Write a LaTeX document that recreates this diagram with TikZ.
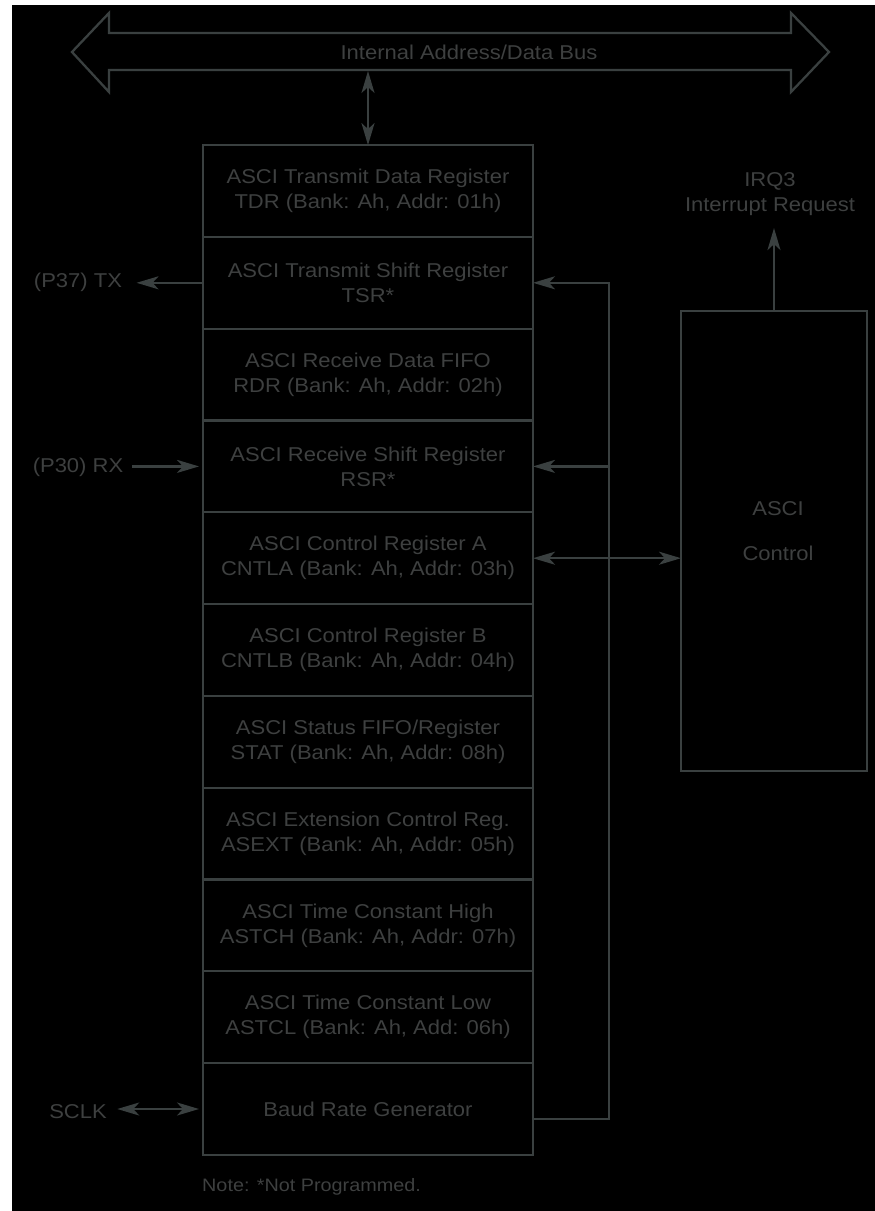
\documentclass[tikz,border=0pt]{standalone}
\usepackage{fontspec}
\setmainfont[FakeStretch=1.1]{Liberation Sans}
\usepackage{tikz}
\usetikzlibrary{arrows.meta,positioning}
\definecolor{wire}{HTML}{3A4040}
\definecolor{ink}{HTML}{3E4040}

\begin{document}
\begin{tikzpicture}[x=1pt, y=-1pt,
  font=\fontsize{20}{25}\selectfont, >={Stealth[length=22pt, width=13pt, inset=6pt]},
  reg/.style={draw=wire, line width=2.3pt, minimum width=330pt, minimum height=91.8pt, outer sep=0pt, inner sep=0pt, align=center, text=ink},
  lbl/.style={text=ink, align=center},
  arr/.style={->, draw=wire, line width=2.3pt},
  dbl/.style={<->, draw=wire, line width=2.3pt}]
\useasboundingbox (0,0) rectangle (875,1211);
\fill[white] (0,0) rectangle (875,1211);
\fill[black] (12,5) rectangle (875,1211);
% internal bus
\draw[draw=wire, line width=2.3pt, line join=miter] (72,52) -- (109,13) -- (109,33) -- (791,33) -- (791,13) -- (829,52) -- (791,92) -- (791,70) -- (109,70) -- (109,92) -- cycle;
\node[lbl] (bus) at (469,52) {Internal Address/Data Bus};
\coordinate (busb) at (368,71);
% register stack
\node[reg] (tdr) at (368,191) {ASCI Transmit Data Register\\TDR (Bank: Ah, Addr: 01h)};
\node[reg, below=0pt of tdr] (tsr) {ASCI Transmit Shift Register\\TSR*};
\node[reg, below=0pt of tsr] (rdr) {ASCI Receive Data FIFO\\RDR (Bank: Ah, Addr: 02h)};
\node[reg, below=0pt of rdr] (rsr) {ASCI Receive Shift Register\\RSR*};
\node[reg, below=0pt of rsr] (cntla) {ASCI Control Register A\\CNTLA (Bank: Ah, Addr: 03h)};
\node[reg, below=0pt of cntla] (cntlb) {ASCI Control Register B\\CNTLB (Bank: Ah, Addr: 04h)};
\node[reg, below=0pt of cntlb] (stat) {ASCI Status FIFO/Register\\STAT (Bank: Ah, Addr: 08h)};
\node[reg, below=0pt of stat] (asext) {ASCI Extension Control Reg.\\ASEXT (Bank: Ah, Addr: 05h)};
\node[reg, below=0pt of asext] (astch) {ASCI Time Constant High\\ASTCH (Bank: Ah, Addr: 07h)};
\node[reg, below=0pt of astch] (astcl) {ASCI Time Constant Low\\ASTCL (Bank: Ah, Add: 06h)};
\node[reg, below=0pt of astcl] (brg) {Baud Rate Generator};
\draw[dbl] (busb) -- (tdr.north);
% pins on the left
\node[lbl] (tx) at (78,282) {(P37) TX};
\node[lbl] (rx) at (78,467) {(P30) RX};
\node[lbl] (sclk) at (78,1112) {SCLK};
\draw[arr, shorten >=11pt] (tsr.west) -- (tsr.west -| tx.east);
\draw[arr, shorten <=5pt, shorten >=4pt] (rsr.west -| rx.east) -- (rsr.west);
\draw[dbl, shorten <=7pt, shorten >=4pt] (brg.west -| sclk.east) -- (brg.west);
% control block
\node[draw=wire, line width=2.3pt, minimum width=186pt, minimum height=460pt, outer sep=0pt] (ctrl) at (774,541) {};
\node[lbl] (ctrltxt) at (778,531) {ASCI\\[20pt]Control};
\node[lbl] (irq) at (770,194) {IRQ3\\Interrupt Request};
\draw[arr, shorten >=9pt] (ctrl.north) -- (irq.south -| ctrl.north);
\draw[dbl] (cntla.east) -- (cntla.east -| ctrl.west);
% baud rate feedback
\coordinate (fb) at (609,1119);
\draw[arr] (brg.east |- fb) -- (fb) |- (tsr.east);
\draw[arr] (fb |- rsr.east) -- (rsr.east);
\node[lbl, anchor=west, inner sep=0pt, font=\fontsize{18}{22}\selectfont] (note) at (202,1187) {Note: *Not Programmed.};
\end{tikzpicture}
\end{document}
